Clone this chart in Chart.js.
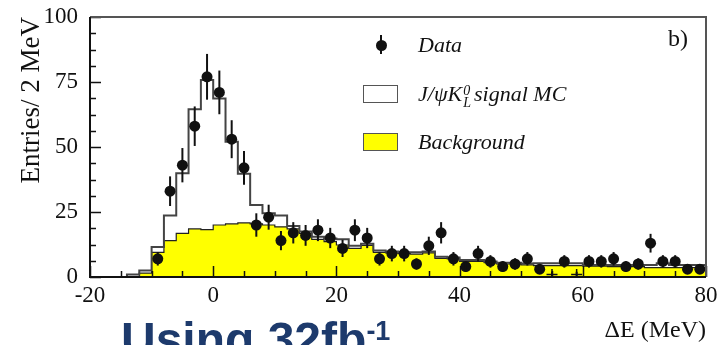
<!DOCTYPE html>
<html>
<head>
<meta charset="utf-8">
<script src="https://cdn.jsdelivr.net/npm/chart.js@4.4.1/dist/chart.umd.min.js"></script>
<style>
  html, body { margin: 0; padding: 0; background: #fff; }
  #wrap { position: relative; width: 717px; height: 345px; overflow: hidden; }
  #wrap canvas { position: absolute; left: 0; top: 0; }
  .lbl { position: absolute; font-family: "Liberation Serif", serif; font-size: 22px; font-style: italic; color: #111; line-height: 22px; white-space: nowrap; }
  .ss { display: inline-block; vertical-align: -6px; font-size: 14px; line-height: 12px; margin: 0 3px 0 1px; }
  .ss span { display: block; }
  .box { position: absolute; width: 33px; height: 16px; border: 1.5px solid #555; }
  .dot { position: absolute; width: 11px; height: 11px; border-radius: 50%; background: #111; }
  .bar { position: absolute; width: 2px; background: #111; }
  #panel { position: absolute; left: 668px; top: 26px; font-family: "Liberation Serif", serif; font-size: 24px; color: #111; line-height: 24px; }
  #lumi { position: absolute; left: 121px; top: 316px; font-family: "Liberation Sans", Arial, sans-serif; font-weight: bold; font-size: 48px; line-height: 48px; color: #1d3a6c; white-space: nowrap; }
  #lumi sup { font-size: 27px; vertical-align: 16px; line-height: 0; }
</style>
</head>
<body>
<div id="wrap">
  <canvas id="chart" width="717" height="345"></canvas>
  <div class="bar" style="left:380px;top:35px;height:19px"></div>
  <div class="dot" style="left:375.5px;top:39.5px"></div>
  <div class="lbl" style="left:418px;top:34px">Data</div>
  <div class="box" style="left:363px;top:85px;background:#fff"></div>
  <div class="lbl" style="left:418px;top:83px">J/ψK<span class="ss"><span>0</span><span>L</span></span>signal MC</div>
  <div class="box" style="left:363px;top:133px;background:#ffff00"></div>
  <div class="lbl" style="left:418px;top:131px">Background</div>
  <div id="panel">b)</div>
  <div id="lumi">Using 32fb<sup>-1</sup></div>
</div>
<script>
// Histogramas de 2 MeV entre -20 y 80 MeV; los puntos de datos van en los centros de bin.
const binLow = Array.from({ length: 50 }, (_, i) => -20 + 2 * i);
const binWidth = 2;

// Fondo (amarillo)
const bkgCounts = [
    0, 0, 0, 0, 1.5,
    9.5, 14, 16.8, 18.5, 18.2, 20, 20.4, 20.8, 20.4, 20,
    19.3, 18.5, 16.8, 14.5, 13.6, 12.3, 11, 12.2, 9.5, 9.3,
    9.0, 8.8, 9.3, 7.2, 7.0, 6.0, 6.0, 5.5, 5.0, 5.0,
    4.7, 4.4, 4.4, 4.4, 4.4, 4.2, 4.2, 4.0, 4.0, 4.0,
    3.6, 3.6, 3.6, 3.6, 3.6,
];

// Señal MC J/psi K0L apilada sobre el fondo (contorno)
const mcCounts = [
    0, 0, 0, 1, 2.5,
    11.5, 23.7, 39.9, 64.5, 75.8, 68.7, 52, 39.7, 27.7, 24.5,
    23.7, 19.6, 17.5, 15.5, 14.8, 14.5, 12, 12.8, 10.2, 9.8,
    9.5, 9.5, 9.8, 7.8, 7.5, 6.5, 6.5, 6.0, 5.5, 5.5,
    5.2, 5.3, 5.3, 5.3, 5.3, 4.6, 4.6, 4.6, 4.6, 4.6,
    4.6, 5.3, 4.6, 4.6, 4.6,
];

// Datos
const dataX = [
    -9, -7, -5, -3, -1, 1, 3, 5, 7, 9, 11, 13, 15, 17, 19, 21, 23, 25, 27, 29, 31, 33, 35,
    37, 39, 41, 43, 45, 47, 49, 51, 53, 55, 57, 59, 61, 63, 65, 67, 69, 71, 73, 75, 77, 79,
];
const dataY = [
    7, 33, 43, 58, 77, 71, 53, 42, 20, 23, 14, 17, 16, 18, 15, 11, 18, 15, 7, 9, 9, 5, 12,
    17, 7, 4, 9, 6, 4, 5, 7, 3, 1, 6, 1, 6, 6, 7, 4, 5, 13, 6, 6, 3, 3,
];
const dataErr = [
    2.6, 5.7, 6.6, 7.6, 8.8, 8.4, 7.3, 6.5, 4.5, 4.8, 3.7, 4.1, 4.0, 4.2, 3.9, 3.3, 4.2, 3.9, 2.6, 3.0, 3.0, 2.2, 3.5,
    4.1, 2.6, 2.0, 3.0, 2.4, 2.0, 2.2, 2.6, 1.7, 1.0, 2.4, 1.0, 2.4, 2.4, 2.6, 2.0, 2.2, 3.6, 2.4, 2.4, 1.7, 1.7,
];

const xTicks = [-20, 0, 20, 40, 60, 80];
const yTicks = [0, 25, 50, 75, 100];

const INK = '#111';
const SERIF = '"Liberation Serif", "Times New Roman", serif';

function stepPoints(counts) {
    const pts = [];
    counts.forEach((v, i) => {
        pts.push({ x: binLow[i], y: v });
        pts.push({ x: binLow[i] + binWidth, y: v });
    });
    return pts;
}

const errorBarsAndFrame = {
    id: 'errorBarsAndFrame',
    afterDatasetsDraw(chart) {
        const { ctx, scales: { x, y } } = chart;
        ctx.save();
        ctx.strokeStyle = INK;
        ctx.lineWidth = 2;
        dataX.forEach((xv, i) => {
            const px = x.getPixelForValue(xv);
            ctx.beginPath();
            ctx.moveTo(px, y.getPixelForValue(dataY[i] - dataErr[i]));
            ctx.lineTo(px, y.getPixelForValue(dataY[i] + dataErr[i]));
            ctx.stroke();
        });
        ctx.restore();
    },
    afterDraw(chart) {
        const { ctx, chartArea: a, scales: { x, y } } = chart;
        ctx.save();
        ctx.strokeStyle = INK;
        ctx.lineWidth = 1.5;
        ctx.beginPath();
        for (let v = -20; v <= 80; v += 5) {
            const px = Math.round(x.getPixelForValue(v)) + 0.5;
            const len = v % 20 === 0 ? 11 : 6;
            ctx.moveTo(px, a.bottom);
            ctx.lineTo(px, a.bottom - len);
        }
        for (let k = 0; k <= 16; k++) {
            const py = Math.round(y.getPixelForValue(k * 6.25)) + 0.5;
            const len = k % 4 === 0 ? 11 : 6;
            ctx.moveTo(a.left, py);
            ctx.lineTo(a.left + len, py);
        }
        ctx.stroke();
        // marco
        ctx.lineWidth = 2;
        ctx.strokeStyle = '#555';
        ctx.beginPath();
        ctx.moveTo(a.left, a.top);
        ctx.lineTo(a.right, a.top);
        ctx.lineTo(a.right, a.bottom);
        ctx.stroke();
        ctx.strokeStyle = INK;
        ctx.beginPath();
        ctx.moveTo(a.left, a.top);
        ctx.lineTo(a.left, a.bottom);
        ctx.lineTo(a.right, a.bottom);
        ctx.stroke();
        ctx.restore();
    },
};

new Chart(document.getElementById('chart'), {
    type: 'scatter',
    data: {
        datasets: [
            {
                data: dataX.map((xv, i) => ({ x: xv, y: dataY[i] })),
                pointRadius: 5.5,
                pointStyle: dataY.map((v) => (v <= 1 ? 'cross' : 'circle')),
                pointBackgroundColor: INK,
                pointBorderColor: INK,
                pointBorderWidth: dataY.map((v) => (v <= 1 ? 1.5 : 0)),
                showLine: false,
                order: 0,
            },
            {
                data: stepPoints(mcCounts),
                showLine: true,
                borderColor: '#444',
                borderWidth: 2,
                pointRadius: 0,
                fill: false,
                tension: 0,
                order: 1,
            },
            {
                data: stepPoints(bkgCounts),
                showLine: true,
                borderColor: '#222',
                borderWidth: 1.2,
                backgroundColor: '#ffff00',
                pointRadius: 0,
                fill: 'origin',
                tension: 0,
                order: 2,
            },
        ],
    },
    options: {
        responsive: false,
        animation: false,
        devicePixelRatio: 1,
        layout: { padding: { left: 12, right: 11, top: 17, bottom: 0 } },
        plugins: { legend: { display: false }, tooltip: { enabled: false } },
        scales: {
            x: {
                type: 'linear',
                min: -20,
                max: 80,
                afterBuildTicks: (s) => { s.ticks = xTicks.map((v) => ({ value: v })); },
                afterFit: (s) => { s.height = 68; s.paddingLeft = 0; s.paddingRight = 0; },
                grid: { display: false, drawTicks: false },
                border: { display: false },
                ticks: { color: INK, font: { family: SERIF, size: 23 }, padding: 5, maxRotation: 0 },
                title: { display: true, text: 'ΔE (MeV)', align: 'end', color: INK, font: { family: SERIF, size: 24 }, padding: { top: 1, bottom: 0 } },
            },
            y: {
                min: 0,
                max: 100,
                afterBuildTicks: (s) => { s.ticks = yTicks.map((v) => ({ value: v })); },
                afterFit: (s) => { s.width = 78; s.paddingTop = 0; s.paddingBottom = 0; },
                grid: { display: false, drawTicks: false },
                border: { display: false },
                ticks: { color: INK, font: { family: SERIF, size: 23 }, padding: 12 },
                title: { display: true, text: 'Entries/ 2 MeV', align: 'end', color: INK, font: { family: SERIF, size: 27 }, padding: { top: 4, bottom: 4 } },
            },
        },
    },
    plugins: [errorBarsAndFrame],
});
</script>
</body>
</html>
